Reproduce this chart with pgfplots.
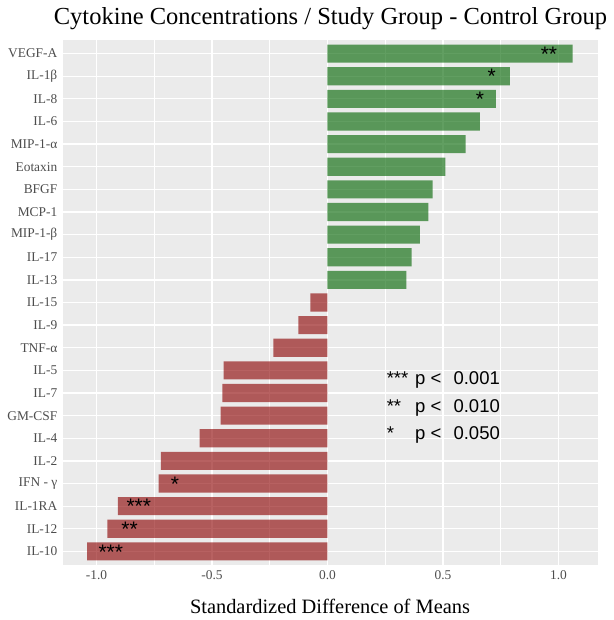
\documentclass[border=0pt]{standalone}
\usepackage{pgfplots}
\pgfplotsset{compat=1.18}
\usepackage{fontspec}
\setmainfont{Liberation Serif}
\newfontfamily\sansf{Liberation Sans}
\definecolor{panel}{HTML}{EBEBEB}
\definecolor{ticklab}{HTML}{4D4D4D}
\definecolor{barg}{RGB}{0,100,0}
\definecolor{barr}{RGB}{139,0,0}
\begin{document}
\begin{tikzpicture}
\path[use as bounding box] (-63bp,-55bp) rectangle (551bp,565bp);
\begin{axis}[
 at={(0,0)}, anchor=south west,
 scale only axis, width=534.7bp, height=525bp,
 xmin=-1.145, xmax=1.170, ymin=0.4, ymax=23.6,
 axis background/.style={fill=panel},
 axis line style={draw=none},
 major tick length=0pt, minor tick length=0pt,
 xtick={-1,-0.5,0,0.5,1},
 xticklabels={-1.0,-0.5,0.0,0.5,1.0},
 minor xtick={-0.75,-0.25,0.25,0.75},
 ytick={1,...,23},
 yticklabels={IL-10,IL-12,IL-1RA,IFN - γ,IL-2,IL-4,GM-CSF,IL-7,IL-5,TNF-α,IL-9,IL-15,IL-13,IL-17,MIP-1-β,MCP-1,BFGF,Eotaxin,MIP-1-α,IL-6,IL-8,IL-1β,VEGF-A},
 xmajorgrids, xminorgrids, ymajorgrids,
 major grid style={white, line width=1.3bp},
 minor grid style={white, line width=0.7bp},
 tick label style={font=\fontsize{13.4bp}{16bp}\selectfont, text=ticklab, inner sep=0pt},
 xticklabel style={anchor=north, yshift=-5.5bp},
 yticklabel style={anchor=east, xshift=-5.5bp},
 xbar, bar shift=0pt, bar width=0.8,
]
\addplot[draw=none, fill=barg, fill opacity=0.62] coordinates {
 (1.061,23) (0.790,22) (0.729,21) (0.660,20) (0.598,19) (0.511,18)
 (0.455,17) (0.437,16) (0.400,15) (0.364,14) (0.342,13)};
\addplot[draw=none, fill=barr, fill opacity=0.62] coordinates {
 (-0.074,12) (-0.126,11) (-0.234,10) (-0.450,9) (-0.455,8) (-0.463,7)
 (-0.554,6) (-0.721,5) (-0.731,4) (-0.907,3) (-0.953,2) (-1.041,1)};
\tikzset{star/.style={font=\sansf\fontsize{21bp}{21bp}\selectfont, anchor=base, inner sep=0pt, yshift=-7.6bp}}
\node[star] at (axis cs:0.959,23) {**};
\node[star] at (axis cs:0.711,22) {*};
\node[star] at (axis cs:0.660,21) {*};
\node[star] at (axis cs:-0.660,4) {*};
\node[star] at (axis cs:-0.817,3) {***};
\node[star] at (axis cs:-0.857,2) {**};
\node[star] at (axis cs:-0.938,1) {***};
\tikzset{leg/.style={font=\sansf\fontsize{18.5bp}{18.5bp}\selectfont, anchor=base west, inner sep=0pt}}
\node[leg] at (axis cs:0.256,8.37) {***};
\node[leg] at (axis cs:0.379,8.37) {p <};
\node[leg] at (axis cs:0.545,8.37) {0.001};
\node[leg] at (axis cs:0.256,7.15) {**};
\node[leg] at (axis cs:0.379,7.15) {p <};
\node[leg] at (axis cs:0.545,7.15) {0.010};
\node[leg] at (axis cs:0.256,5.94) {*};
\node[leg] at (axis cs:0.379,5.94) {p <};
\node[leg] at (axis cs:0.545,5.94) {0.050};
\end{axis}
\node[anchor=base, inner sep=0pt, font=\fontsize{24.5bp}{24.5bp}\selectfont] at (267.5bp,540.7bp) {Cytokine Concentrations / Study Group - Control Group};
\node[anchor=base, inner sep=0pt, font=\fontsize{20.4bp}{20.4bp}\selectfont] at (267bp,-48bp) {Standardized Difference of Means};
\end{tikzpicture}
\end{document}
